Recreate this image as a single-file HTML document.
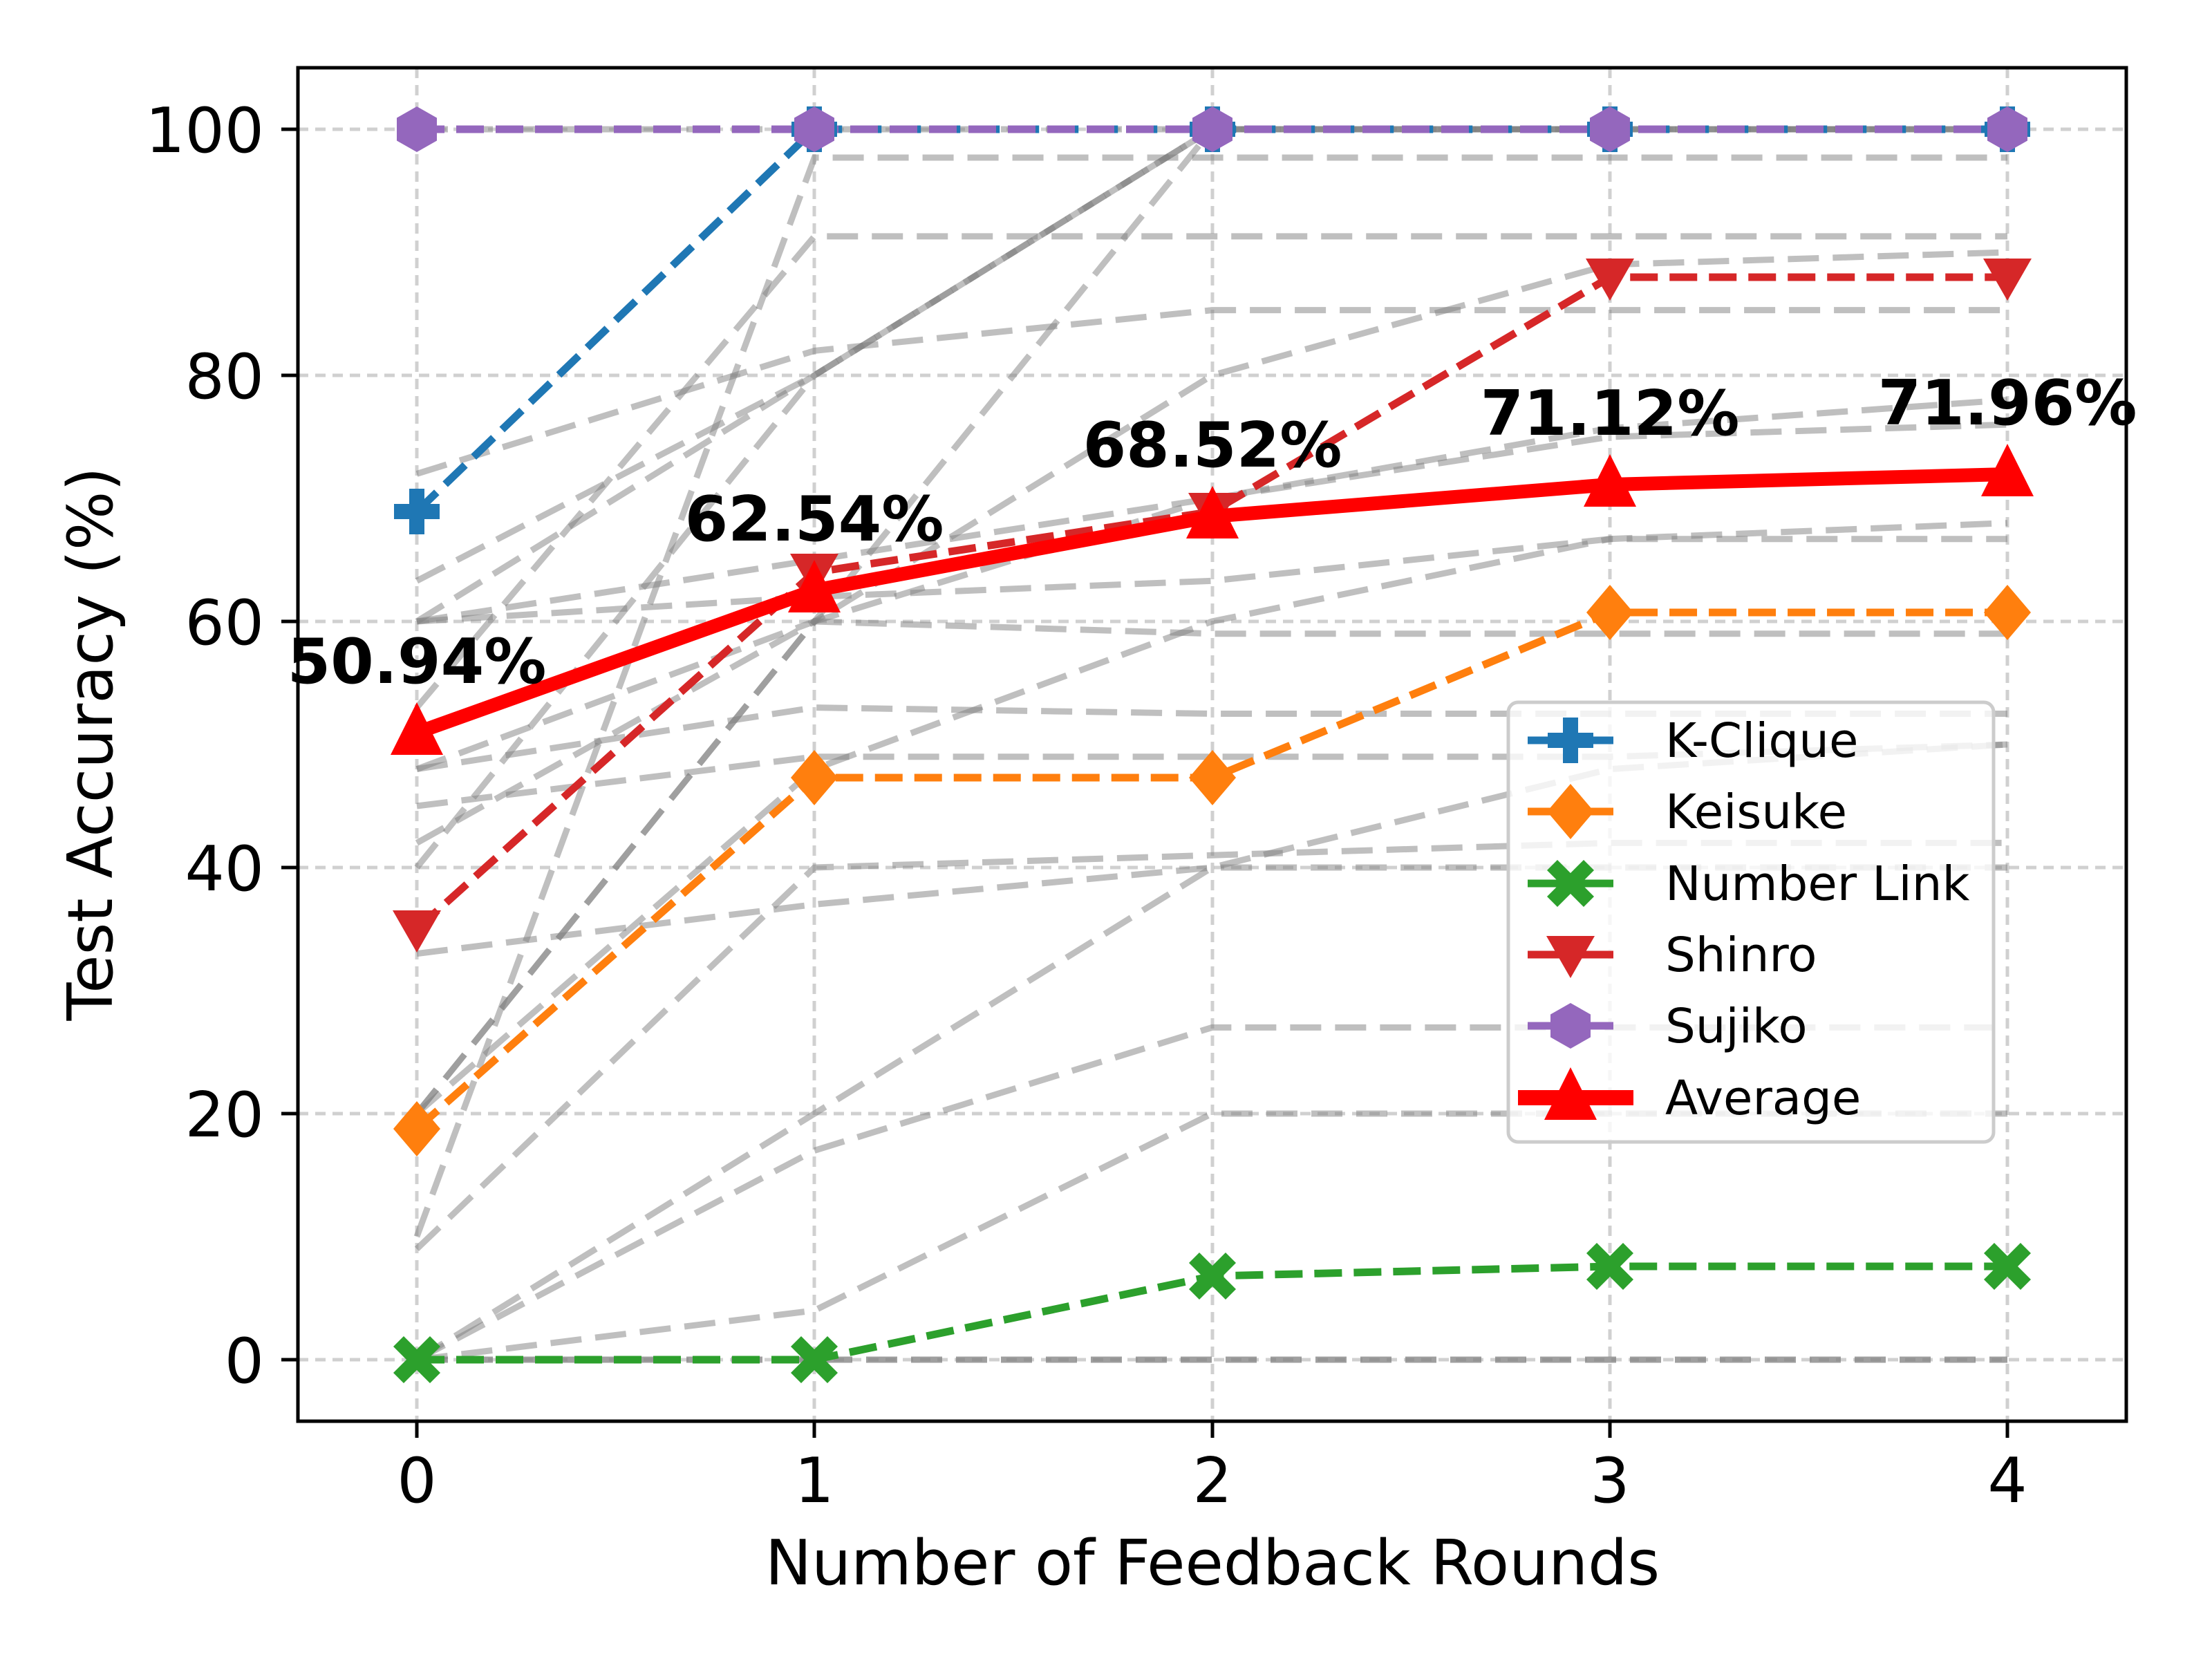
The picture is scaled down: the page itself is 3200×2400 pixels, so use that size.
<!DOCTYPE html>
<html><head><meta charset="utf-8"><style>html,body{margin:0;padding:0;background:#fff}svg{display:block}text{font-family:"DejaVu Sans","Liberation Sans",sans-serif}</style></head>
<body>
<svg width="3200" height="2400" viewBox="0 0 3200 2400" xmlns="http://www.w3.org/2000/svg">
<rect width="3200" height="2400" fill="#fff"/>
<g stroke="#b0b0b0" stroke-opacity="0.6" stroke-width="5" stroke-dasharray="15,10">
<line x1="603" y1="98" x2="603" y2="2056"/><line x1="1178" y1="98" x2="1178" y2="2056"/><line x1="1754" y1="98" x2="1754" y2="2056"/><line x1="2329" y1="98" x2="2329" y2="2056"/><line x1="2904" y1="98" x2="2904" y2="2056"/>
<line x1="431" y1="1967" x2="3076" y2="1967"/><line x1="431" y1="1611" x2="3076" y2="1611"/><line x1="431" y1="1255" x2="3076" y2="1255"/><line x1="431" y1="899" x2="3076" y2="899"/><line x1="431" y1="543" x2="3076" y2="543"/><line x1="431" y1="187" x2="3076" y2="187"/>
</g>
<g transform="matrix(575.25 0 0 -17.8 603 1967)" fill="none" stroke="#808080" stroke-opacity="0.5" stroke-width="9" stroke-dasharray="45,20">
<polyline vector-effect="non-scaling-stroke" points="0,0 1,0 2,0 3,0 4,0"/>
<polyline vector-effect="non-scaling-stroke" points="0,0 1,0 2,0 3,0 4,0"/>
<polyline vector-effect="non-scaling-stroke" points="0,0 1,4 2,20 3,20 4,20"/>
<polyline vector-effect="non-scaling-stroke" points="0,0 1,17 2,27 3,27 4,27"/>
<polyline vector-effect="non-scaling-stroke" points="0,9 1,40 2,41 3,42 4,42"/>
<polyline vector-effect="non-scaling-stroke" points="0,20 1,48 2,60 3,66.7 4,68"/>
<polyline vector-effect="non-scaling-stroke" points="0,33 1,37 2,40 3,40 4,40"/>
<polyline vector-effect="non-scaling-stroke" points="0,20 1,60 2,100 3,100 4,100"/>
<polyline vector-effect="non-scaling-stroke" points="0,40 1,80 2,100 3,100 4,100"/>
<polyline vector-effect="non-scaling-stroke" points="0,60 1,80 2,100 3,100 4,100"/>
<polyline vector-effect="non-scaling-stroke" points="0,42 1,60 2,70 3,75.7 4,78"/>
<polyline vector-effect="non-scaling-stroke" points="0,48 1,53 2,52.5 3,52.5 4,52.5"/>
<polyline vector-effect="non-scaling-stroke" points="0,45 1,49 2,49 3,49 4,50"/>
<polyline vector-effect="non-scaling-stroke" points="0,60 1,62 2,63.3 3,66.7 4,66.7"/>
<polyline vector-effect="non-scaling-stroke" points="0,63.3 1,80 2,100 3,100 4,100"/>
<polyline vector-effect="non-scaling-stroke" points="0,72 1,82 2,85.3 3,85.3 4,85.3"/>
<polyline vector-effect="non-scaling-stroke" points="0,53 1,91.3 2,91.3 3,91.3 4,91.3"/>
<polyline vector-effect="non-scaling-stroke" points="0,20 1,60 2,59 3,59 4,59"/>
<polyline vector-effect="non-scaling-stroke" points="0,10 1,97.7 2,97.7 3,97.7 4,97.7"/>
<polyline vector-effect="non-scaling-stroke" points="0,0 1,20 2,40 3,48 4,50"/>
<polyline vector-effect="non-scaling-stroke" points="0,48 1,60 2,80 3,89 4,90"/>
<polyline vector-effect="non-scaling-stroke" points="0,100 1,100 2,100 3,100 4,100"/>
<polyline vector-effect="non-scaling-stroke" points="0,60 1,65 2,70 3,75 4,76"/>
</g>
<g fill="none" stroke-width="11" stroke-dasharray="40,17">
<polyline stroke="#1f77b4" points="603,740 1178,187 1754,187 2329,187 2904,187"/>
<polyline stroke="#ff7f0e" points="603,1633 1178,1125 1754,1125 2329,886 2904,886"/>
<polyline stroke="#2ca02c" points="603,1967 1178,1967 1754,1846 2329,1832 2904,1832"/>
<polyline stroke="#d62728" points="603,1344 1178,828 1754,740 2329,401 2904,401"/>
<polyline stroke="#9467bd" points="603,187 1178,187 1754,187 2329,187 2904,187"/>
</g>
<defs>
<path id="plus" d="M-11,-33h22v22h22v22h-22v22h-22v-22h-22v-22h22z"/>
<path id="dia" d="M0,-40L34,0L0,40L-34,0z"/>
<path id="xm" d="M-19,-34L0,-15L19,-34L34,-19L15,0L34,19L19,34L0,15L-19,34L-34,19L-15,0L-34,-19z"/>
<path id="tdn" d="M-35,-27H35L0,34z"/>
<path id="hex" d="M0,-33L29,-16.5V16.5L0,33L-29,16.5V-16.5z"/>
<path id="tup" d="M0,-44L38,32H-38z"/>
</defs>
<g fill="#1f77b4"><use href="#plus" x="603" y="740"/><use href="#plus" x="1178" y="187"/><use href="#plus" x="1754" y="187"/><use href="#plus" x="2329" y="187"/><use href="#plus" x="2904" y="187"/></g>
<g fill="#ff7f0e"><use href="#dia" x="603" y="1633"/><use href="#dia" x="1178" y="1125"/><use href="#dia" x="1754" y="1125"/><use href="#dia" x="2329" y="886"/><use href="#dia" x="2904" y="886"/></g>
<g fill="#2ca02c"><use href="#xm" x="603" y="1967"/><use href="#xm" x="1178" y="1967"/><use href="#xm" x="1754" y="1846"/><use href="#xm" x="2329" y="1832"/><use href="#xm" x="2904" y="1832"/></g>
<g fill="#d62728"><use href="#tdn" x="603" y="1344"/><use href="#tdn" x="1178" y="828"/><use href="#tdn" x="1754" y="740"/><use href="#tdn" x="2329" y="401"/><use href="#tdn" x="2904" y="401"/></g>
<g fill="#9467bd"><use href="#hex" x="603" y="187"/><use href="#hex" x="1178" y="187"/><use href="#hex" x="1754" y="187"/><use href="#hex" x="2329" y="187"/><use href="#hex" x="2904" y="187"/></g>
<polyline fill="none" stroke="#ff0000" stroke-width="20" stroke-linejoin="round" points="603,1060 1178,854 1754,747 2329,701 2904,686"/>
<g fill="#ff0000"><use href="#tup" x="603" y="1060"/><use href="#tup" x="1178" y="854"/><use href="#tup" x="1754" y="747"/><use href="#tup" x="2329" y="701"/><use href="#tup" x="2904" y="686"/></g>
<g font-weight="bold" font-size="90" text-anchor="middle" fill="#000">
<text x="603" y="988">50.94%</text><text x="1178" y="782">62.54%</text><text x="1754" y="675">68.52%</text><text x="2329" y="629">71.12%</text><text x="2904" y="614">71.96%</text>
</g>
<rect x="431" y="98" width="2645" height="1958" fill="none" stroke="#000" stroke-width="5"/>
<g stroke="#000" stroke-width="5">
<line x1="407" y1="1967" x2="431" y2="1967"/><line x1="407" y1="1611" x2="431" y2="1611"/><line x1="407" y1="1255" x2="431" y2="1255"/><line x1="407" y1="899" x2="431" y2="899"/><line x1="407" y1="543" x2="431" y2="543"/><line x1="407" y1="187" x2="431" y2="187"/>
<line x1="603" y1="2056" x2="603" y2="2080"/><line x1="1178" y1="2056" x2="1178" y2="2080"/><line x1="1754" y1="2056" x2="1754" y2="2080"/><line x1="2329" y1="2056" x2="2329" y2="2080"/><line x1="2904" y1="2056" x2="2904" y2="2080"/>
</g>
<g font-size="90" fill="#000" text-anchor="end">
<text x="382" y="2000">0</text><text x="382" y="1644">20</text><text x="382" y="1288">40</text><text x="382" y="932">60</text><text x="382" y="576">80</text><text x="382" y="220">100</text>
</g>
<g font-size="90" fill="#000" text-anchor="middle">
<text x="603" y="2173">0</text><text x="1178" y="2173">1</text><text x="1754" y="2173">2</text><text x="2329" y="2173">3</text><text x="2904" y="2173">4</text>
<text x="1754" y="2292">Number of Feedback Rounds</text>
<text transform="translate(162,1076) rotate(-90)">Test Accuracy (%)</text>
</g>
<g transform="translate(-32,-12)">
<rect x="2214" y="1028" width="702" height="636" rx="14" fill="#fff" fill-opacity="0.8" stroke="#cccccc" stroke-width="5"/>
<g stroke-width="11">
<line x1="2242" y1="1083" x2="2366" y2="1083" stroke="#1f77b4"/>
<line x1="2242" y1="1186" x2="2366" y2="1186" stroke="#ff7f0e"/>
<line x1="2242" y1="1290" x2="2366" y2="1290" stroke="#2ca02c"/>
<line x1="2242" y1="1393" x2="2366" y2="1393" stroke="#d62728"/>
<line x1="2242" y1="1496" x2="2366" y2="1496" stroke="#9467bd"/>
<line x1="2228" y1="1600" x2="2395" y2="1600" stroke="#ff0000" stroke-width="22"/>
</g>
<use href="#plus" x="2304" y="1083" fill="#1f77b4"/>
<use href="#dia" x="2304" y="1186" fill="#ff7f0e"/>
<use href="#xm" x="2304" y="1290" fill="#2ca02c"/>
<use href="#tdn" x="2304" y="1393" fill="#d62728"/>
<use href="#hex" x="2304" y="1496" fill="#9467bd"/>
<use href="#tup" x="2304" y="1600" fill="#ff0000"/>
<g font-size="69" fill="#000">
<text x="2441" y="1107">K-Clique</text><text x="2441" y="1210">Keisuke</text><text x="2441" y="1314">Number Link</text><text x="2441" y="1417">Shinro</text><text x="2441" y="1520">Sujiko</text><text x="2441" y="1624">Average</text>
</g>
</g>
</svg>
</body></html>
